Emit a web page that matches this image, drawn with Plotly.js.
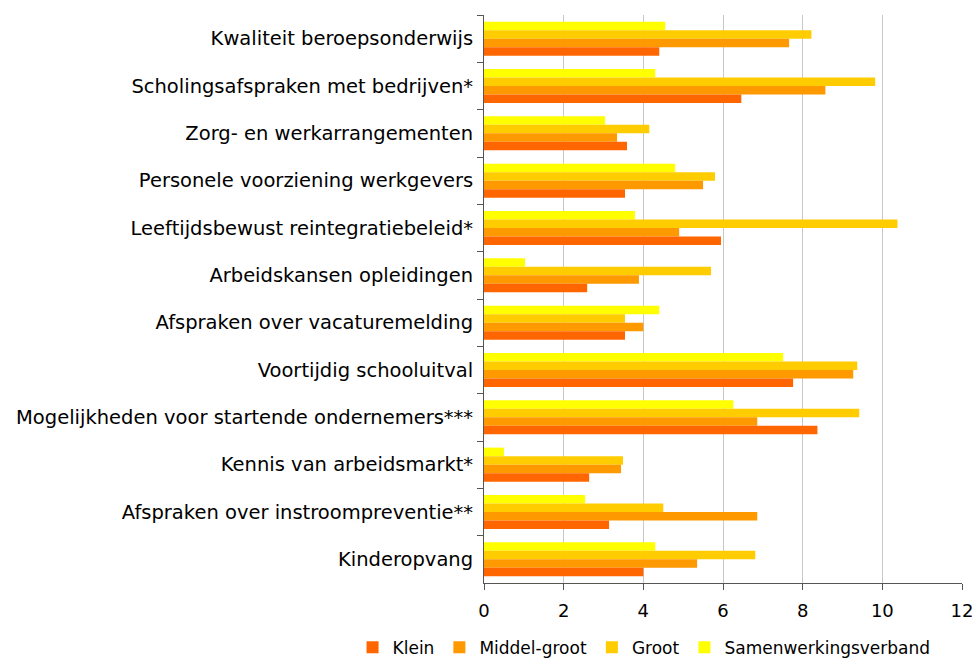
<!DOCTYPE html>
<html><head><meta charset="utf-8">
<script src="https://cdn.plot.ly/plotly-3.0.1.min.js"></script>
<style>html,body{margin:0;padding:0;background:#fff}#chart{width:976px;height:660px}</style>
</head><body><div id="chart"></div>
<script>
const categories = [
  "Kwaliteit beroepsonderwijs",
  "Scholingsafspraken met bedrijven*",
  "Zorg- en werkarrangementen",
  "Personele voorziening werkgevers",
  "Leeftijdsbewust reintegratiebeleid*",
  "Arbeidskansen opleidingen",
  "Afspraken over vacaturemelding",
  "Voortijdig schooluitval",
  "Mogelijkheden voor startende ondernemers***",
  "Kennis van arbeidsmarkt*",
  "Afspraken over instroompreventie**",
  "Kinderopvang"
];
const klein        = [4.40, 6.46, 3.59, 3.54, 5.95, 2.59, 3.54, 7.76, 8.37, 2.64, 3.14, 4.00];
const middelGroot  = [7.66, 8.57, 3.34, 5.50, 4.90, 3.89, 4.00, 9.27, 6.86, 3.44, 6.86, 5.35];
const groot        = [8.22, 9.82, 4.15, 5.80, 10.38, 5.70, 3.54, 9.37, 9.42, 3.49, 4.50, 6.81];
const samenwerking = [4.55, 4.30, 3.04, 4.80, 3.79, 1.03, 4.40, 7.51, 6.26, 0.50, 2.54, 4.30];
const xTicks = [0, 2, 4, 6, 8, 10, 12];

const series = [
  {name: "Samenwerkingsverband", values: samenwerking, color: "#FFFF00"},
  {name: "Groot", values: groot, color: "#FFCC00"},
  {name: "Middel-groot", values: middelGroot, color: "#FF9900"},
  {name: "Klein", values: klein, color: "#FF6600"}
];
const traces = series.map(s => ({
  type: "bar", orientation: "h", name: s.name,
  x: s.values, y: categories,
  marker: {color: s.color, line: {width: 0}},
  hoverinfo: "x+name"
}));
const font = "'DejaVu Sans', sans-serif";
const layout = {
  width: 976, height: 660,
  margin: {l: 484, r: 14, t: 15, b: 77, autoexpand: false},
  paper_bgcolor: "#fff", plot_bgcolor: "#fff",
  barmode: "group", bargap: 0.28, bargroupgap: 0,
  font: {family: font, size: 19, color: "#000"},
  showlegend: true,
  legend: {orientation: "h", traceorder: "reversed", xref: "paper", yref: "paper",
           x: -0.275, xanchor: "left", y: -0.114, yanchor: "middle",
           bgcolor: "rgba(0,0,0,0)",
           font: {family: font, size: 17, color: "#000"}, itemwidth: 30, tracegroupgap: 0},
  xaxis: {range: [0, 12], tickvals: xTicks, ticktext: xTicks.map(String),
          showgrid: true, gridcolor: "#c8c8c8", gridwidth: 1,
          showline: true, linecolor: "#555", linewidth: 1,
          ticks: "outside", ticklen: 6, tickcolor: "#555",
          zeroline: false, ticklabelstandoff: 5,
          tickfont: {family: font, size: 18, color: "#000"}},
  yaxis: {type: "category", autorange: "reversed", showgrid: false,
          showline: true, linecolor: "#555", linewidth: 1,
          ticks: "outside", ticklen: 6, tickcolor: "#555", tickson: "boundaries",
          ticklabelstandoff: 6,
          tickfont: {family: font, size: 19.5, color: "#000"}}
};
Plotly.newPlot("chart", traces, layout, {displayModeBar: false, staticPlot: true});
</script></body></html>
